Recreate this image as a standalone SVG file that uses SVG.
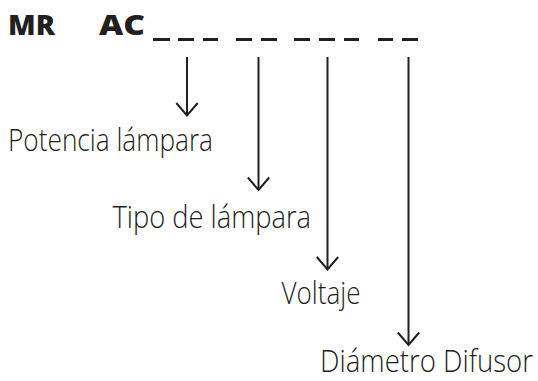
<svg xmlns="http://www.w3.org/2000/svg" width="538" height="381" viewBox="0 0 538 381">
<defs>
<marker id="chev" viewBox="-15 -13 17 26" markerWidth="17" markerHeight="26" refX="0" refY="0" orient="auto" markerUnits="userSpaceOnUse">
<path d="M-12.5,-10.7 L0,0 L-12.5,10.7" fill="none" stroke="#231f20" stroke-width="2"/>
</marker>
<style>
.code{font-family:"Open Sans",Lato,"Liberation Sans",sans-serif;font-weight:800;font-size:28px;fill:#231f20}
.lbl{font-family:"Open Sans",Lato,"Liberation Sans",sans-serif;font-weight:300;font-size:31px;fill:#231f20}
.dash{stroke:#231f20;stroke-width:3}
.conn{stroke:#231f20;stroke-width:2;fill:none}
</style>
</defs>
<rect width="538" height="381" fill="#ffffff"/>
<g id="code">
<text class="code" x="8" y="34.5" textLength="47" lengthAdjust="spacingAndGlyphs">MR</text>
<text class="code" x="99" y="34.5" textLength="46" lengthAdjust="spacingAndGlyphs">AC</text>
<g id="dashes">
<line class="dash" x1="153" y1="39.5" x2="170" y2="39.5"/>
<line class="dash" x1="178" y1="39.5" x2="194" y2="39.5"/>
<line class="dash" x1="203" y1="39.5" x2="218" y2="39.5"/>
<line class="dash" x1="236" y1="39.5" x2="252" y2="39.5"/>
<line class="dash" x1="261" y1="39.5" x2="277" y2="39.5"/>
<line class="dash" x1="294" y1="39.5" x2="310" y2="39.5"/>
<line class="dash" x1="319" y1="39.5" x2="335" y2="39.5"/>
<line class="dash" x1="344" y1="39.5" x2="359" y2="39.5"/>
<line class="dash" x1="378" y1="39.5" x2="393" y2="39.5"/>
<line class="dash" x1="402" y1="39.5" x2="418" y2="39.5"/>
</g>
</g>
<g id="connectors">
<line class="conn" x1="187" y1="57" x2="187" y2="115.5" marker-end="url(#chev)"/>
<line class="conn" x1="258.5" y1="57" x2="258.5" y2="190" marker-end="url(#chev)"/>
<line class="conn" x1="327.5" y1="57" x2="327.5" y2="269.5" marker-end="url(#chev)"/>
<line class="conn" x1="408.5" y1="57" x2="408.5" y2="345" marker-end="url(#chev)"/>
</g>
<g id="potencia"><text class="lbl" x="8" y="151" textLength="205" lengthAdjust="spacingAndGlyphs">Potencia lámpara</text></g>
<g id="tipo"><text class="lbl" x="112.5" y="228" textLength="198.5" lengthAdjust="spacingAndGlyphs">Tipo de lámpara</text></g>
<g id="voltaje"><text class="lbl" x="281.5" y="304" textLength="79" lengthAdjust="spacingAndGlyphs">Voltaje</text></g>
<g id="diametro"><text class="lbl" x="320" y="372" textLength="213" lengthAdjust="spacingAndGlyphs">Diámetro Difusor</text></g>
</svg>
